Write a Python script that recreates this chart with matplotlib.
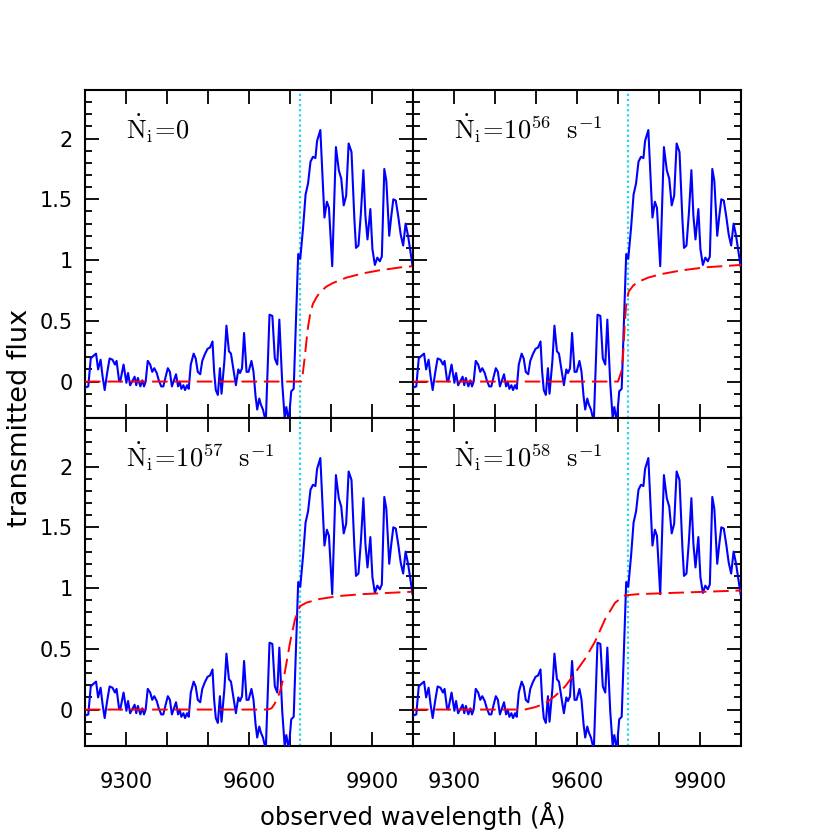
import matplotlib
matplotlib.use("Agg")
import matplotlib.pyplot as plt
from matplotlib.ticker import MultipleLocator, FormatStrFormatter

# observed spectrum (same in every panel)
wavelength = [9200, 9208, 9214, 9220, 9227, 9232, 9238, 9243, 9248, 9254,
              9260, 9267, 9273, 9277, 9283, 9286, 9294, 9301, 9305, 9310,
              9315, 9321, 9325, 9329, 9335, 9340, 9344, 9348, 9353, 9359,
              9364, 9369, 9375, 9380, 9386, 9391, 9396, 9402, 9407, 9412,
              9417, 9422, 9427, 9431, 9435, 9440, 9444, 9449, 9453, 9458,
              9465, 9470, 9475, 9481, 9486, 9493, 9499, 9505, 9511, 9515,
              9519, 9524, 9529, 9533, 9540, 9545, 9551, 9556, 9562, 9568,
              9574, 9578, 9583, 9588, 9594, 9599, 9606, 9611, 9616, 9620,
              9625, 9629, 9634, 9641, 9650, 9657, 9663, 9669, 9674, 9681,
              9687, 9691, 9697, 9703, 9709, 9720, 9725, 9732, 9738, 9744,
              9750, 9756, 9762, 9766, 9774, 9784, 9790, 9795, 9803, 9812,
              9819, 9825, 9831, 9837, 9843, 9850, 9857, 9861, 9867, 9873,
              9879, 9884, 9889, 9896, 9901, 9907, 9913, 9919, 9924, 9930,
              9935, 9942, 9947, 9952, 9958, 9964, 9970, 9976, 9982, 9988,
              9999]
flux = [-0.05, -0.04, 0.19, 0.21, 0.23, 0.10, 0.18, 0.04, -0.07, 0.07,
        0.19, 0.18, 0.14, 0.17, 0.01, 0.00, 0.14, -0.01, 0.07, -0.03,
        0.00, 0.04, -0.03, 0.03, -0.04, 0.01, -0.04, 0.00, 0.17, 0.14,
        0.08, 0.11, 0.07, 0.01, -0.04, -0.04, 0.03, 0.11, 0.08, -0.04,
        0.01, 0.06, -0.04, 0.00, -0.06, -0.03, -0.07, -0.03, -0.06, 0.14,
        0.23, 0.19, 0.08, 0.06, 0.17, 0.23, 0.27, 0.28, 0.33, 0.08,
        -0.07, -0.11, 0.11, -0.10, 0.17, 0.46, 0.25, 0.23, 0.10, -0.03,
        0.10, 0.07, 0.11, 0.40, 0.08, 0.08, 0.17, 0.08, -0.12, -0.23,
        -0.14, -0.19, -0.23, -0.33, 0.55, 0.54, 0.19, 0.14, 0.51, -0.01,
        -0.30, -0.21, -0.33, -0.08, -0.06, 1.05, 1.01, 1.27, 1.54, 1.63,
        1.81, 1.85, 1.84, 1.98, 2.07, 1.35, 1.48, 1.43, 0.95, 1.93,
        1.74, 1.67, 1.45, 1.53, 1.96, 1.89, 1.34, 1.10, 1.12, 1.39,
        1.74, 1.36, 1.17, 1.42, 1.09, 0.96, 1.02, 0.99, 1.03, 1.75,
        1.65, 1.20, 1.36, 1.50, 1.49, 1.36, 1.21, 1.12, 1.30, 1.20,
        0.95]

# model transmission curves (red dashed), one per panel
model0_x = [9200, 9727, 9731, 9736, 9740, 9744, 9750, 9756, 9764, 9772, 9788, 9804, 9837, 9877, 9917, 9970, 10000]
model0_y = [0.0, 0.0, 0.06, 0.20, 0.33, 0.45, 0.57, 0.64, 0.69, 0.73, 0.78, 0.81, 0.855, 0.89, 0.915, 0.94, 0.95]
model56_x = [9200, 9700, 9708, 9712, 9716, 9720, 9726, 9737, 9749, 9773, 9806, 9855, 9912, 10000]
model56_y = [0.0, 0.0, 0.08, 0.19, 0.45, 0.64, 0.74, 0.79, 0.82, 0.855, 0.885, 0.915, 0.94, 0.96]
model57_x = [9200, 9645, 9655, 9663, 9675, 9687, 9700, 9712, 9724, 9740, 9772, 9821, 9877, 10000]
model57_y = [0.0, 0.0, 0.01, 0.05, 0.14, 0.30, 0.55, 0.74, 0.85, 0.88, 0.91, 0.935, 0.95, 0.97]
model58_x = [9200, 9473, 9498, 9522, 9546, 9571, 9595, 9620, 9644, 9668, 9693, 9717, 9750, 9831, 10000]
model58_y = [0.0, 0.0, 0.02, 0.05, 0.11, 0.19, 0.30, 0.42, 0.56, 0.74, 0.88, 0.94, 0.95, 0.96, 0.98]

lya_observed = 9725.0

panel_labels = [r"$\dot{\mathrm{N}}_{\mathrm{i}}\!=\!0$",
                r"$\dot{\mathrm{N}}_{\mathrm{i}}\!=\!10^{56}\ \ \mathrm{s}^{-1}$",
                r"$\dot{\mathrm{N}}_{\mathrm{i}}\!=\!10^{57}\ \ \mathrm{s}^{-1}$",
                r"$\dot{\mathrm{N}}_{\mathrm{i}}\!=\!10^{58}\ \ \mathrm{s}^{-1}$"]
models = [(model0_x, model0_y), (model56_x, model56_y),
          (model57_x, model57_y), (model58_x, model58_y)]

plt.rcParams["font.family"] = ["DejaVu Sans"]
plt.rcParams["mathtext.fontset"] = "cm"

W = 830.0
fig = plt.figure(figsize=(8.3, 8.3), dpi=100)
gs = fig.add_gridspec(2, 2, left=85 / W, right=741 / W, top=1 - 90 / W,
                      bottom=1 - 746 / W, wspace=0, hspace=0)

for k in range(4):
    r, c = divmod(k, 2)
    ax = fig.add_subplot(gs[r, c])
    ax.plot(wavelength, flux, color="#0000ff", lw=1.5, zorder=3)
    mx, my = models[k]
    ax.plot(mx, my, color="#ff0000", lw=1.4, dashes=(8, 3.5), zorder=4)
    ax.axvline(lya_observed, color="#20d8e8", lw=1.6, ls=(0, (1, 1.3)), zorder=2)
    ax.set_xlim(9200, 10000)
    ax.set_ylim(-0.3, 2.4)
    ax.xaxis.set_major_locator(MultipleLocator(300))
    ax.xaxis.set_minor_locator(MultipleLocator(100))
    ax.yaxis.set_major_locator(MultipleLocator(0.5))
    ax.yaxis.set_minor_locator(MultipleLocator(0.1))
    ax.yaxis.set_major_formatter(FormatStrFormatter("%g"))
    ax.tick_params(which="both", direction="in", top=True, right=True,
                   width=1.3, labelsize=15)
    ax.tick_params(axis="x", which="both", length=10, pad=19)
    ax.tick_params(axis="y", which="major", length=10, pad=9)
    ax.tick_params(axis="y", which="minor", length=5)
    for s in ax.spines.values():
        s.set_linewidth(1.5)
    if c == 1:
        ax.tick_params(labelleft=False)
    if r == 0:
        ax.tick_params(labelbottom=False)
    ax.text(9300, 2.0, panel_labels[k], fontsize=19, va="baseline", ha="left")

fig.text(413 / W, 1 - 816 / W, "observed wavelength (Å)", fontsize=17.5,
         ha="center", va="center")
fig.text(20 / W, 1 - 418 / W, "transmitted flux", fontsize=19.5,
         ha="center", va="center", rotation=90)

fig.savefig("out.png", dpi=100)
